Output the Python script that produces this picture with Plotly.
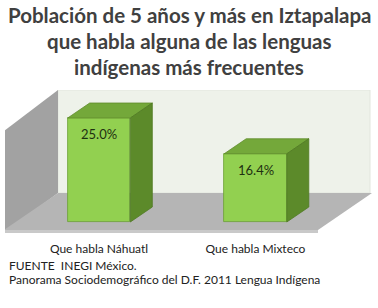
import plotly.graph_objects as go

categories = ["Que habla Náhuatl", "Que habla Mixteco"]
values = [25.0, 16.4]
value_labels = ["25.0%", "16.4%"]

title_lines = ["Población de 5 años y más en Iztapalapa",
               "que habla alguna de las lenguas",
               "indígenas más frecuentes"]
footer_lines = ["FUENTE  INEGI México.",
                "Panorama Sociodemográfico del D.F. 2011 Lengua Indígena"]

W, H = 378, 308
# plot area in pixels
L, R, T, B = 5, 372, 90, 233
# scale: x category units -> px ; y value units -> px
X0PX, XS = 99.0, 156.5
Y0PX, YS = 222.0, 4.16

def dx(px):
    return (px - X0PX) / XS

def dy(py):
    return (Y0PX - py) / YS

def paper_x(px):
    return (px - L) / (R - L)

def paper_y(py):
    return (B - py) / (B - T)

xr = [dx(L), dx(R)]
yr = [dy(B), dy(T)]

def poly(pts_px, color, line=None):
    path = "M " + " L ".join(f"{dx(x)},{dy(y)}" for x, y in pts_px) + " Z"
    return dict(type="path", xref="x", yref="y", path=path, fillcolor=color,
                line=dict(width=0) if line is None else line, layer="below")

shapes = []
# back wall
shapes.append(poly([(58, 90), (370, 90), (370, 193), (58, 193)], "#eef2ea",
                   line=dict(color="#e2e6de", width=1)))
# left wall
shapes.append(poly([(4, 131), (58, 90), (58, 193), (4, 233)], "#a2a2a2"))
# floor
shapes.append(poly([(4, 230), (58, 193), (372, 193), (318, 230)], "#b5b5b5"))
shapes.append(poly([(4, 230), (318, 230), (318, 234), (4, 234)], "#c9c9c9"))

bar_w = 0.40
ddx = 22 / XS
ddy = 15 / YS
for i, v in enumerate(values):
    x0 = i - bar_w / 2
    x1 = i + bar_w / 2
    top = f"M {x0},{v} L {x1},{v} L {x1+ddx},{v+ddy} L {x0+ddx},{v+ddy} Z"
    side = f"M {x1},0 L {x1},{v} L {x1+ddx},{v+ddy} L {x1+ddx},{ddy} Z"
    shapes.append(dict(type="path", xref="x", yref="y", path=top,
                       fillcolor="#74a83a", line=dict(color="#5f8c2c", width=0.8), layer="above"))
    shapes.append(dict(type="path", xref="x", yref="y", path=side,
                       fillcolor="#5c8a2a", line=dict(color="#4f7a22", width=0.8), layer="above"))

fig = go.Figure()
fig.add_trace(go.Bar(
    x=list(range(len(categories))), y=values, width=bar_w,
    marker=dict(color="#92d050", line=dict(color="#6a9e34", width=0.8)),
    hoverinfo="skip", cliponaxis=False,
))

annotations = []
# value labels just below each bar top
for i, (v, lab) in enumerate(zip(values, value_labels)):
    annotations.append(dict(text=lab, x=i, xref="x", y=v, yref="y",
                            yanchor="top", xanchor="center", yshift=-6, showarrow=False,
                            font=dict(family="Lato", size=13, color="#1e3010")))
for i, t in enumerate(title_lines):
    annotations.append(dict(text=f"<b>{t}</b>", x=paper_x(W / 2), xref="paper",
                            y=paper_y(15 + i * 26), yref="paper",
                            yanchor="middle", xanchor="center", showarrow=False,
                            font=dict(family="Lato", size=20.5, color="#404040")))
for i, t in enumerate(footer_lines):
    annotations.append(dict(text=t, x=paper_x(7), xref="paper",
                            y=paper_y(265 + i * 14), yref="paper",
                            yanchor="middle", xanchor="left", showarrow=False,
                            font=dict(family="Lato", size=12, color="#222222")))

fig.update_layout(
    width=W, height=H,
    margin=dict(l=L, r=W - R, t=T, b=H - B),
    paper_bgcolor="white", plot_bgcolor="rgba(0,0,0,0)",
    showlegend=False,
    shapes=shapes,
    annotations=annotations,
    xaxis=dict(range=xr, tickmode="array", tickvals=list(range(len(categories))),
               ticktext=categories, showgrid=False, zeroline=False, showline=False,
               ticks="", ticklabelstandoff=7,
               tickfont=dict(family="Lato", size=12, color="#222222"), fixedrange=True),
    yaxis=dict(range=yr, showgrid=False, zeroline=False, showticklabels=False,
               showline=False, fixedrange=True),
    bargap=0,
)

fig.write_html("out.html")
